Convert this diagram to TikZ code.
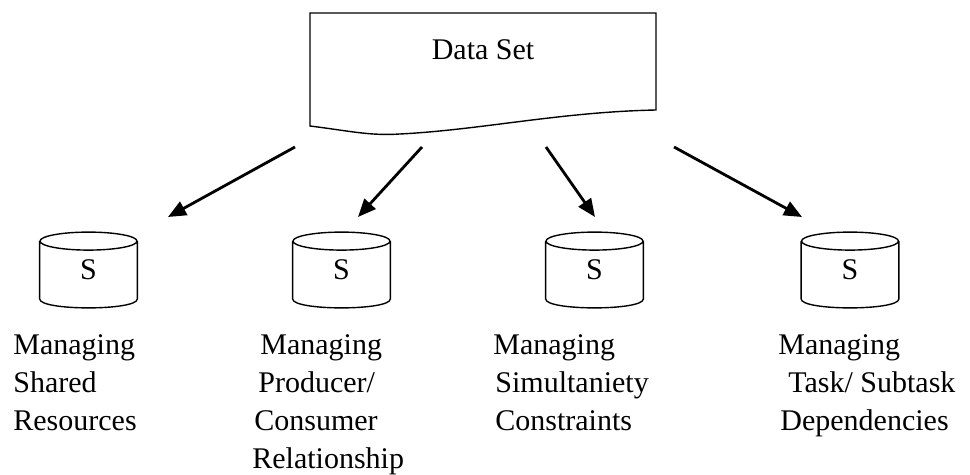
\documentclass[tikz,border=0pt]{standalone}
\usepackage{fontspec}
\setmainfont{Liberation Serif}
\usetikzlibrary{calc,arrows.meta}
\begin{document}
\begin{tikzpicture}[x=0.5pt, y=-0.5pt, font=\fontsize{15}{19}\selectfont,
    db/.style={minimum width=48.5pt, minimum height=37.5pt, inner sep=0pt},
    lbl/.style={anchor=north west, align=left, inner sep=0pt},
    arr/.style={-{Triangle[length=9pt,width=7.5pt]}, line width=1.4pt}]
        \useasboundingbox (0,0) rectangle (970,475);

        % data set (document shape)
        \draw[line width=0.7pt] (310,13) -- (656,13) -- (656,110)
            .. controls (560,112) and (480,130) .. (400,134)
            .. controls (370,136) and (350,131) .. (310,126) -- cycle;
        \node (ds) at (483,50) {Data Set};

        \node[db] (s1) at (88.5,270) {S};
        \node[db] (s2) at (341.5,270) {S};
        \node[db] (s3) at (594.5,270) {S};
        \node[db] (s4) at (850,270) {S};

        % cylinder outlines
        \foreach \n in {s1,s2,s3,s4}
            \draw[line width=0.7pt] ($(\n.north)+(0,9)$) ellipse [x radius=48.5, y radius=9]
                ($(\n.north west)+(0,9)$) -- ($(\n.south west)+(0,-9)$)
                .. controls +(0,12) and +(0,12) .. ($(\n.south east)+(0,-9)$)
                -- ($(\n.north east)+(0,9)$);

        \node[lbl] (l1) at (13,334) {Managing\\Shared\\Resources};
        \node[lbl] (l2) at (252,334) {\hspace{4pt}Managing\\\hspace{3pt}Producer/\\\hspace{1pt}Consumer\\Relationship};
        \node[lbl] (l3) at (493,334) {Managing\\\hspace{1pt}Simultaniety\\\hspace{1pt}Constraints};
        \node[lbl] (l4) at (778,334) {Managing\\\hspace{5pt}Task/ Subtask\\\hspace{1pt}Dependencies};

        \coordinate (a1) at (295,147);
        \coordinate (b1) at (168,217);
        \coordinate (a2) at (422,147);
        \coordinate (b2) at (358,217);
        \coordinate (a3) at (546,147);
        \coordinate (b3) at (595,217);
        \coordinate (a4) at (674,147);
        \coordinate (b4) at (802,217);

        \draw[arr] (a1) -- (b1);
        \draw[arr] (a2) -- (b2);
        \draw[arr] (a3) -- (b3);
        \draw[arr] (a4) -- (b4);
    \end{tikzpicture}
\end{document}
